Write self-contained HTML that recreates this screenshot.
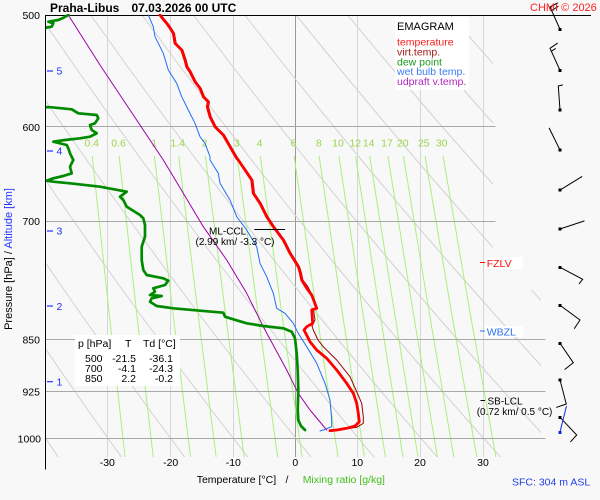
<!DOCTYPE html>
<html><head><meta charset="utf-8">
<style>
html,body{margin:0;padding:0;background:#f8f8f8;}
svg{display:block;font-family:"Liberation Sans",Arial,Helvetica,sans-serif;}
</style></head><body>
<svg width="600" height="500" viewBox="0 0 600 500" xmlns="http://www.w3.org/2000/svg">
<defs>
<clipPath id="adc"><polygon points="45.5,15 493,15 493,290 541,290 541,457 45.5,457"/></clipPath>
<clipPath id="pc"><rect x="46" y="14" width="554" height="460"/></clipPath>
</defs>
<rect width="600" height="500" fill="#f8f8f8"/>

<!-- isotherms -->
<g stroke="#d6d6d6" stroke-width="1">
<line x1="107.5" y1="15" x2="107.5" y2="457"/>
<line x1="170.5" y1="15" x2="170.5" y2="457"/>
<line x1="233.5" y1="15" x2="233.5" y2="457"/>
<line x1="357.5" y1="15" x2="357.5" y2="457"/>
<line x1="420.5" y1="15" x2="420.5" y2="457"/>
<line x1="483.5" y1="15" x2="483.5" y2="457"/>
</g>
<line x1="295.5" y1="15" x2="295.5" y2="457" stroke="#9a9a9a" stroke-width="1"/>

<!-- dry adiabats -->
<g clip-path="url(#adc)">
<g fill="none" stroke="#d2d2d2" stroke-width="1">
<polyline vector-effect="non-scaling-stroke" transform="translate(-1414.4,0) scale(233.15,1)" points="5.13433,15 5.25605,65 5.38066,115 5.50823,165 5.63882,215 5.77250,265 5.90936,315 6.04946,365 6.19288,415 6.33970,465"/>
<polyline vector-effect="non-scaling-stroke" transform="translate(-1414.4,0) scale(243.15,1)" points="5.13433,15 5.25605,65 5.38066,115 5.50823,165 5.63882,215 5.77250,265 5.90936,315 6.04946,365 6.19288,415 6.33970,465"/>
<polyline vector-effect="non-scaling-stroke" transform="translate(-1414.4,0) scale(253.15,1)" points="5.13433,15 5.25605,65 5.38066,115 5.50823,165 5.63882,215 5.77250,265 5.90936,315 6.04946,365 6.19288,415 6.33970,465"/>
<polyline vector-effect="non-scaling-stroke" transform="translate(-1414.4,0) scale(263.15,1)" points="5.13433,15 5.25605,65 5.38066,115 5.50823,165 5.63882,215 5.77250,265 5.90936,315 6.04946,365 6.19288,415 6.33970,465"/>
<polyline vector-effect="non-scaling-stroke" transform="translate(-1414.4,0) scale(273.15,1)" points="5.13433,15 5.25605,65 5.38066,115 5.50823,165 5.63882,215 5.77250,265 5.90936,315 6.04946,365 6.19288,415 6.33970,465"/>
<polyline vector-effect="non-scaling-stroke" transform="translate(-1414.4,0) scale(283.15,1)" points="5.13433,15 5.25605,65 5.38066,115 5.50823,165 5.63882,215 5.77250,265 5.90936,315 6.04946,365 6.19288,415 6.33970,465"/>
<polyline vector-effect="non-scaling-stroke" transform="translate(-1414.4,0) scale(293.15,1)" points="5.13433,15 5.25605,65 5.38066,115 5.50823,165 5.63882,215 5.77250,265 5.90936,315 6.04946,365 6.19288,415 6.33970,465"/>
<polyline vector-effect="non-scaling-stroke" transform="translate(-1414.4,0) scale(303.15,1)" points="5.13433,15 5.25605,65 5.38066,115 5.50823,165 5.63882,215 5.77250,265 5.90936,315 6.04946,365 6.19288,415 6.33970,465"/>
<polyline vector-effect="non-scaling-stroke" transform="translate(-1414.4,0) scale(313.15,1)" points="5.13433,15 5.25605,65 5.38066,115 5.50823,165 5.63882,215 5.77250,265 5.90936,315 6.04946,365 6.19288,415 6.33970,465"/>
<polyline vector-effect="non-scaling-stroke" transform="translate(-1414.4,0) scale(323.15,1)" points="5.13433,15 5.25605,65 5.38066,115 5.50823,165 5.63882,215 5.77250,265 5.90936,315 6.04946,365 6.19288,415 6.33970,465"/>
<polyline vector-effect="non-scaling-stroke" transform="translate(-1414.4,0) scale(333.15,1)" points="5.13433,15 5.25605,65 5.38066,115 5.50823,165 5.63882,215 5.77250,265 5.90936,315 6.04946,365 6.19288,415 6.33970,465"/>
<polyline vector-effect="non-scaling-stroke" transform="translate(-1414.4,0) scale(343.15,1)" points="5.13433,15 5.25605,65 5.38066,115 5.50823,165 5.63882,215 5.77250,265 5.90936,315 6.04946,365 6.19288,415 6.33970,465"/>
<polyline vector-effect="non-scaling-stroke" transform="translate(-1414.4,0) scale(353.15,1)" points="5.13433,15 5.25605,65 5.38066,115 5.50823,165 5.63882,215 5.77250,265 5.90936,315 6.04946,365 6.19288,415 6.33970,465"/>
<polyline vector-effect="non-scaling-stroke" transform="translate(-1414.4,0) scale(363.15,1)" points="5.13433,15 5.25605,65 5.38066,115 5.50823,165 5.63882,215 5.77250,265 5.90936,315 6.04946,365 6.19288,415 6.33970,465"/>
</g>
</g>

<!-- mixing ratio lines -->
<g fill="none" stroke="#aaf07e" stroke-width="1">
<polyline points="92.2,156 108.8,310 125.0,457"/>
<polyline points="119.1,156 136.3,310 153.2,457"/>
<polyline points="154.4,156 172.6,310 190.5,457"/>
<polyline points="178.7,156 197.6,310 216.1,457"/>
<polyline points="205.4,156 225.0,310 244.2,457"/>
<polyline points="237.0,156 257.5,310 277.6,457"/>
<polyline points="260.3,156 281.3,310 302.1,457"/>
<polyline points="294.1,156 316.3,310 338.0,457"/>
<polyline points="319.1,156 341.9,310 364.4,457"/>
<polyline points="338.9,156 362.4,310 385.4,457"/>
<polyline points="355.5,156 379.4,310 403.0,457"/>
<polyline points="369.7,156 394.1,310 418.0,457"/>
<polyline points="387.9,156 412.8,310 437.4,457"/>
<polyline points="403.4,156 428.8,310 453.8,457"/>
<polyline points="425.0,156 451.1,310 476.8,457"/>
<polyline points="443.0,156 469.6,310 495.9,457"/>
</g>
<g font-size="10.5" fill="#9bd64a" text-anchor="middle">
<text x="91.7" y="146.5">0.4</text>
<text x="118.5" y="146.5">0.6</text>
<text x="154.2" y="146.5">1</text>
<text x="177.7" y="146.5">1.4</text>
<text x="204.5" y="146.5">2</text>
<text x="236.8" y="146.5">3</text>
<text x="259.5" y="146.5">4</text>
<text x="293.5" y="146.5">6</text>
<text x="318.8" y="146.5">8</text>
<text x="338" y="146.5">10</text>
<text x="355.3" y="146.5">12</text>
<text x="368.7" y="146.5">14</text>
<text x="387" y="146.5">17</text>
<text x="402.8" y="146.5">20</text>
<text x="423.8" y="146.5">25</text>
<text x="441.7" y="146.5">30</text>
</g>

<!-- isobars -->
<g stroke="#a8a8a8" stroke-width="1">
<line x1="45" y1="126.5" x2="495.5" y2="126.5"/>
<line x1="45" y1="221.5" x2="495.5" y2="221.5"/>
<line x1="45" y1="339.5" x2="545.5" y2="339.5"/>
<line x1="45" y1="391.5" x2="545.5" y2="391.5"/>
<line x1="45" y1="438.5" x2="545.5" y2="438.5"/>
</g>
<line x1="45" y1="15.5" x2="591" y2="15.5" stroke="#000" stroke-width="1"/>
<line x1="45.5" y1="15" x2="45.5" y2="469.5" stroke="#000" stroke-width="1"/>

<!-- legend box -->
<rect x="395" y="17" width="74" height="73" fill="#ffffff"/>
<text x="397" y="30" font-size="11" fill="#000">EMAGRAM</text>
<g font-size="10.5">
<text x="397" y="45.5" fill="#ff1a1a">temperature</text>
<text x="397" y="55.5" fill="#a01818">virt.temp.</text>
<text x="397" y="65.3" fill="#1a9a1a">dew point</text>
<text x="397" y="75.2" fill="#3a7cf0">wet bulb temp.</text>
<text x="397" y="85.1" fill="#b028c0">udpraft v.temp.</text>
</g>

<!-- table -->
<rect x="75" y="335" width="105" height="51" fill="#ffffff"/>
<g font-size="10.5" fill="#000">
<text x="78" y="347">p [hPa]</text>
<text x="125" y="347">T</text>
<text x="143" y="347">Td [°C]</text>
<text x="85" y="362">500</text>
<text x="85" y="372">700</text>
<text x="85" y="382">850</text>
<g text-anchor="end">
<text x="136" y="362">-21.5</text>
<text x="136" y="372">-4.1</text>
<text x="136" y="382">2.2</text>
<text x="173" y="362">-36.1</text>
<text x="173" y="372">-24.3</text>
<text x="173" y="382">-0.2</text>
</g>
</g>

<!-- FZLV / WBZL boxes -->
<rect x="485" y="257" width="38" height="12" fill="#ffffff"/>
<rect x="485" y="326" width="38" height="11" fill="#ffffff"/>

<!-- profiles -->
<g clip-path="url(#pc)" fill="none" stroke-linejoin="round" stroke-linecap="round">
<polyline stroke="#a000a8" stroke-width="1" points="68.3,15 100,65 130,110 163.3,160 183.3,193.3 203.3,226.7 226.7,260 246.7,293.3 263.3,326.7 286.7,370 298.3,393.3 310,410 326.7,430"/>
<polyline stroke="#1f6ff5" stroke-width="1" points="148.3,15 153.3,26.7 155,36.7 163.3,53.3 168.3,70 176.7,83.3 181.7,96.7 188.3,110 195,123.3 200,136.7 205,143.3 210,156.7 210,160 218.3,173.3 220,183.3 230,200 236.7,216.7 246.7,230 256.7,246.7 260,263.3 266.7,276.7 273.3,293.3 276.7,308.3 285,313.3 293.3,323.3 298.3,333.3 306.7,346.7 316.7,363.3 325,383.3 330,400 331.7,420 331.7,426.7 323.3,430 320,431"/>
<polyline stroke="#008a00" stroke-width="2.7" points="68.3,15 63,18 58.3,20 48.3,21.7 53.3,23.3 51.7,26.7 47,27.5 42,28"/>
<polyline stroke="#008a00" stroke-width="2.7" points="42,107 51.7,107.3 71.7,109.3 78.3,113.3 96.7,115 98.3,118.3 95,123.3 90,125 91.7,130 96.7,133.3 90,136.7 80,138.3 65,140 53.3,141.7 66.7,145 68.3,148.3 70,153.3 73.3,160 70,166.7 71.7,173.3 63.3,176 53.3,178.3 46.7,180.7 53.3,181.7 70,183.3 100,186.7 126.7,191.7 120,196.7 123.3,200 126.7,206.7 140,215 143.3,218.3 145,225 145,236.7 141.7,246.7 141.7,260 143.3,270 146.7,275 163.3,278.3 168.3,280.7 165,285 153.3,288.3 155,291.7 150,295 161.7,296 151.7,298.3 150,301.7 156.7,306 173.3,308.3 200,310.7 223.3,312.7 225,316.7 233.3,319.3 246.7,323.3 263.3,326 283.3,328.3 291.7,331.7 295,338.3 296.7,353.3 297.7,370 298.3,390 297.7,410 298.3,420 301,426 305,430"/>
<polyline stroke="#9a0000" stroke-width="1" points="161.2,15 164.2,19 167.9,23.3 171.2,28 174.5,33.3 176.2,43.3 182.9,50 186.2,60 187.9,66.7 191.2,71.7 196.2,81.7 201.2,88.3 204.5,96.7 209.5,101.7 208.5,106.7 211.2,116.7 216.2,126.7 224.5,135 231.2,146.7 237.9,158.3 246.2,170 252.9,180 254.5,193.3 261.2,203.3 267.9,216.7 274.5,226.7 284.5,240 291.2,253.3 299.5,266.7 301.2,272 302.9,280 307.9,286.7 311.2,293.3 317,307 313.5,310 315,320 312,326 313.3,330 318,340 323.3,346.7 336.7,360 350,376.7 356.7,391.7 361.7,403.3 363.3,416.7 363.3,423.3 356.7,427.3 340,430 330,430.7"/>
<polyline stroke="#ff0000" stroke-width="2.8" points="160,15 163,19 166.7,23.3 170,28 173.3,33.3 175,43.3 181.7,50 185,60 186.7,66.7 190,71.7 195,81.7 200,88.3 203.3,96.7 208.3,101.7 207.3,106.7 210,116.7 215,126.7 223.3,135 230,146.7 236.7,158.3 238.3,160 245,170 251.7,180 253.3,193.3 260,203.3 266.7,216.7 273.3,226.7 283.3,240 290,253.3 298.3,266.7 300,272 301.7,280 306.7,288.3 311.7,295 316.7,308.3 311.7,310 312.7,323.3 306.7,326.7 304,330 308.3,338.3 310,341.7 316.7,350 326.7,358.3 336.7,370 346.7,383.3 353.3,393.3 356.7,403.3 358.3,413.3 359.3,421.7 355,426 346.7,428.3 336.7,430 330,430.7"/>
</g>

<!-- annotations -->
<line x1="254.3" y1="229.5" x2="285" y2="229.5" stroke="#000" stroke-width="1"/>
<g font-size="10" fill="#000">
<text x="209" y="234.3">ML-CCL</text>
<text x="235" y="245" text-anchor="middle">(2.99 km/ -3.3 °C)</text>
<text x="487.5" y="404.5">SB-LCL</text>
<text x="476.7" y="415">(0.72 km/ 0.5 °C)</text>
</g>
<line x1="480.5" y1="400.5" x2="485" y2="400.5" stroke="#000" stroke-width="1"/>
<line x1="480" y1="262.5" x2="485" y2="262.5" stroke="#ff1010" stroke-width="1"/>
<text x="486.7" y="267" font-size="10.5" fill="#ff1010">FZLV</text>
<line x1="480" y1="331" x2="485" y2="331" stroke="#2a70f0" stroke-width="1"/>
<text x="486.7" y="335.5" font-size="10.5" fill="#2a70f0">WBZL</text>

<!-- wind barbs -->
<g stroke="#000" stroke-width="1" fill="none" stroke-linecap="square">
<path d="M560,29.3 L550,7 L557.5,3 M551.5,10.5 L558,6.5"/>
<path d="M560,70.3 L550,48.3 L557.3,43.3 M551.3,51.3 L555.3,48.7"/>
<path d="M560,110 L558.3,86 L562.3,85"/>
<path d="M560,150 L549.3,128.3"/>
<path d="M560,190 L581.7,176.7"/>
<path d="M560,229 L584,221"/>
<path d="M560,267.3 L582.7,279.3 L579.3,283.5"/>
<path d="M560,305.3 L580,320 L574.5,328.3"/>
<path d="M560,343.3 L573.3,362.7 L565,369.3"/>
<path d="M560,380 L566.3,404 L556.7,407.3"/>
<path d="M560,417.3 L576.7,435 L570.7,441.7"/>
</g>
<path d="M566.5,406 L560,432" stroke="#1030e0" stroke-width="1" fill="none"/>
<g fill="#000">
<rect x="558.5" y="28" width="3" height="3"/>
<rect x="558.5" y="69" width="3" height="3"/>
<rect x="558.5" y="108.5" width="3" height="3"/>
<rect x="558.5" y="148.5" width="3" height="3"/>
<rect x="558.5" y="188.5" width="3" height="3"/>
<rect x="558.5" y="227.5" width="3" height="3"/>
<rect x="558.5" y="266" width="3" height="3"/>
<rect x="558.5" y="304" width="3" height="3"/>
<rect x="558.5" y="342" width="3" height="3"/>
<rect x="558.5" y="378.5" width="3" height="3"/>
<rect x="558.5" y="416" width="3" height="3"/>
</g>
<rect x="558.5" y="431" width="3" height="3" fill="#1030e0"/>

<!-- pressure labels -->
<g font-size="10.5" fill="#000" text-anchor="end">
<text x="40" y="19">500</text>
<text x="40" y="131">600</text>
<text x="40" y="225">700</text>
<text x="40" y="343.5">850</text>
<text x="40" y="395.5">925</text>
<text x="41" y="442.5">1000</text>
</g>
<!-- altitude labels -->
<g stroke="#1f2fff" stroke-width="1.2">
<line x1="47" y1="71" x2="53" y2="71"/>
<line x1="47" y1="151" x2="53" y2="151"/>
<line x1="47" y1="231" x2="53" y2="231"/>
<line x1="47" y1="306" x2="53" y2="306"/>
<line x1="47" y1="381.7" x2="53" y2="381.7"/>
</g>
<g font-size="10.5" fill="#1f2fff">
<text x="56.5" y="74.7">5</text>
<text x="56.5" y="154.7">4</text>
<text x="56.5" y="234.7">3</text>
<text x="56.5" y="310">2</text>
<text x="56.5" y="385.7">1</text>
</g>

<!-- x tick labels -->
<g font-size="10.5" fill="#000" text-anchor="middle">
<text x="107.3" y="466">-30</text>
<text x="170.7" y="466">-20</text>
<text x="233.3" y="466">-10</text>
<text x="295.3" y="466">0</text>
<text x="357.3" y="466">10</text>
<text x="420" y="466">20</text>
<text x="483" y="466">30</text>
</g>

<!-- axis titles -->
<text x="196.7" y="483" font-size="10.5" fill="#000">Temperature [°C]</text>
<text x="285.5" y="483" font-size="10.5" fill="#000">/</text>
<text x="302.7" y="483" font-size="10.5" fill="#44c020">Mixing ratio [g/kg]</text>
<text x="512" y="485.5" font-size="10.5" fill="#2040e0">SFC: 304 m ASL</text>
<text transform="translate(12,259) rotate(-90)" text-anchor="middle" font-size="11"><tspan fill="#000">Pressure [hPa]  /  </tspan><tspan fill="#2233ff">Altitude [km]</tspan></text>

<!-- title -->
<text x="50" y="12" font-size="12" font-weight="bold" fill="#000">Praha-Libus</text>
<text x="131.5" y="12" font-size="12" font-weight="bold" fill="#000">07.03.2026 00 UTC</text>
<text x="530" y="11" font-size="11" fill="#ff2020">CHMI © 2026</text>
</svg>
</body></html>
